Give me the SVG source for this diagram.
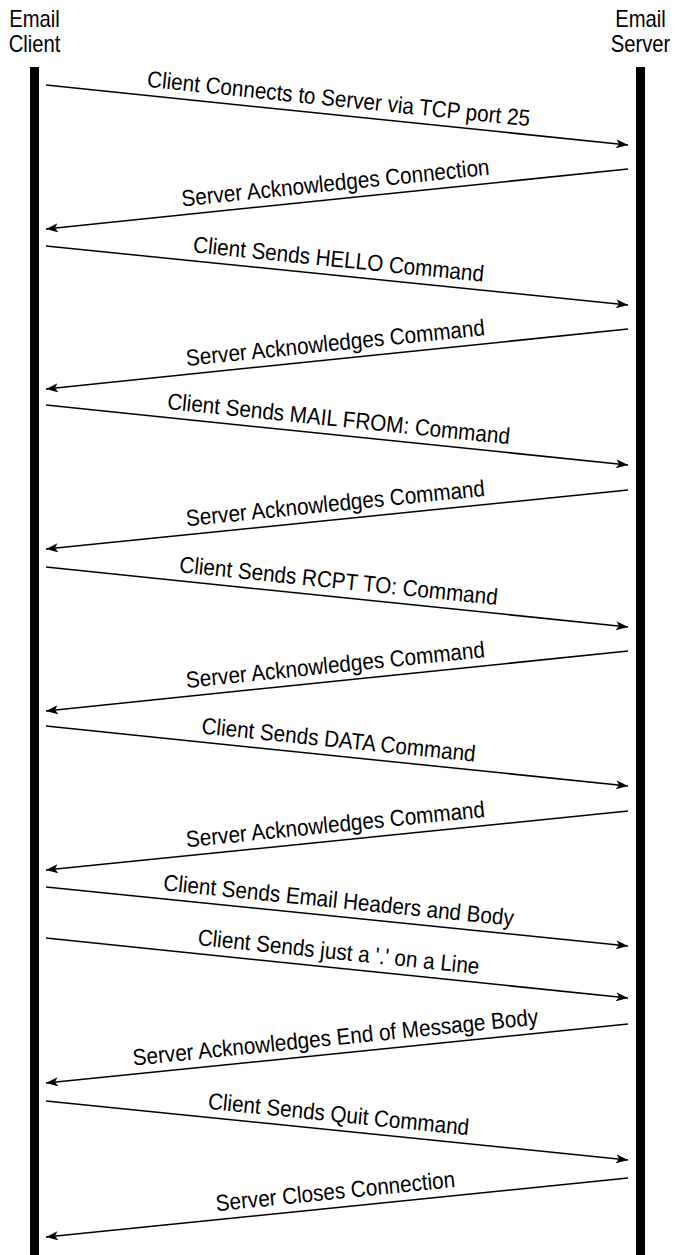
<svg xmlns="http://www.w3.org/2000/svg" width="675" height="1255" viewBox="0 0 675 1255">
<style>
.hdr{font-family:"Liberation Sans",Arial,sans-serif;font-size:23px;fill:#000;text-anchor:middle}
.lbl{font-family:"Liberation Sans",Arial,sans-serif;font-size:23px;fill:#000;text-anchor:middle}
.msg{stroke:#000;stroke-width:1.5;fill:none;marker-end:url(#ah)}
.bar{fill:#000}
</style>
<defs>
<marker id="ah" markerUnits="userSpaceOnUse" viewBox="0 0 12 9" refX="12" refY="4.5" markerWidth="12" markerHeight="9" orient="auto">
<path d="M0,0 L12,4.5 L0,9 L3,4.5 z" fill="#000"/>
</marker>
</defs>
<rect width="675" height="1255" fill="#fff"/>
<g id="client">
<rect class="bar" x="30" y="67" width="9" height="1188"/>
<text class="hdr" transform="translate(34.5,27) scale(0.88,1)">Email</text>
<text class="hdr" transform="translate(34.5,52) scale(0.88,1)">Client</text>
</g>
<g id="server">
<rect class="bar" x="636" y="67" width="9" height="1188"/>
<text class="hdr" transform="translate(640.5,27) scale(0.88,1)">Email</text>
<text class="hdr" transform="translate(640.5,52) scale(0.88,1)">Server</text>
</g>
<g id="connectors">
<line class="msg" x1="46" y1="85" x2="628" y2="145"/>
<line class="msg" x1="628" y1="169" x2="46" y2="229"/>
<line class="msg" x1="46" y1="246" x2="628" y2="305"/>
<line class="msg" x1="628" y1="329" x2="46" y2="389"/>
<line class="msg" x1="46" y1="405" x2="628" y2="465"/>
<line class="msg" x1="628" y1="490" x2="46" y2="549"/>
<line class="msg" x1="46" y1="567" x2="628" y2="627"/>
<line class="msg" x1="628" y1="651" x2="46" y2="711"/>
<line class="msg" x1="46" y1="726" x2="628" y2="786"/>
<line class="msg" x1="628" y1="811" x2="46" y2="870"/>
<line class="msg" x1="46" y1="887" x2="628" y2="946"/>
<line class="msg" x1="46" y1="938" x2="628" y2="998"/>
<line class="msg" x1="628" y1="1024" x2="46" y2="1083"/>
<line class="msg" x1="46" y1="1101" x2="628" y2="1160"/>
<line class="msg" x1="628" y1="1178" x2="46" y2="1237"/>
</g>
<g id="labels">
<text class="lbl" transform="translate(337,115) rotate(5.89) translate(0,-8.5) scale(0.9,1)">Client Connects to Server via TCP port 25</text>
<text class="lbl" transform="translate(337,199) rotate(-5.89) translate(0,-8.5) scale(0.9,1)">Server Acknowledges Connection</text>
<text class="lbl" transform="translate(337,275.5) rotate(5.79) translate(0,-8.5) scale(0.9,1)">Client Sends HELLO Command</text>
<text class="lbl" transform="translate(337,359) rotate(-5.89) translate(0,-8.5) scale(0.9,1)">Server Acknowledges Command</text>
<text class="lbl" transform="translate(337,435) rotate(5.89) translate(0,-8.5) scale(0.9,1)">Client Sends MAIL FROM: Command</text>
<text class="lbl" transform="translate(337,519.5) rotate(-5.79) translate(0,-8.5) scale(0.9,1)">Server Acknowledges Command</text>
<text class="lbl" transform="translate(337,597) rotate(5.89) translate(0,-8.5) scale(0.9,1)">Client Sends RCPT TO: Command</text>
<text class="lbl" transform="translate(337,681) rotate(-5.89) translate(0,-8.5) scale(0.9,1)">Server Acknowledges Command</text>
<text class="lbl" transform="translate(337,756) rotate(5.89) translate(0,-8.5) scale(0.9,1)">Client Sends DATA Command</text>
<text class="lbl" transform="translate(337,840.5) rotate(-5.79) translate(0,-8.5) scale(0.9,1)">Server Acknowledges Command</text>
<text class="lbl" transform="translate(337,916.5) rotate(5.79) translate(0,-8.5) scale(0.9,1)">Client Sends Email Headers and Body</text>
<text class="lbl" transform="translate(337,968) rotate(5.89) translate(0,-8.5) scale(0.9,1)">Client Sends just a '.' on a Line</text>
<text class="lbl" transform="translate(337,1053.5) rotate(-5.79) translate(0,-8.5) scale(0.9,1)">Server Acknowledges End of Message Body</text>
<text class="lbl" transform="translate(337,1130.5) rotate(5.79) translate(0,-8.5) scale(0.9,1)">Client Sends Quit Command</text>
<text class="lbl" transform="translate(337,1207.5) rotate(-5.79) translate(0,-8.5) scale(0.9,1)">Server Closes Connection</text>
</g>
</svg>
